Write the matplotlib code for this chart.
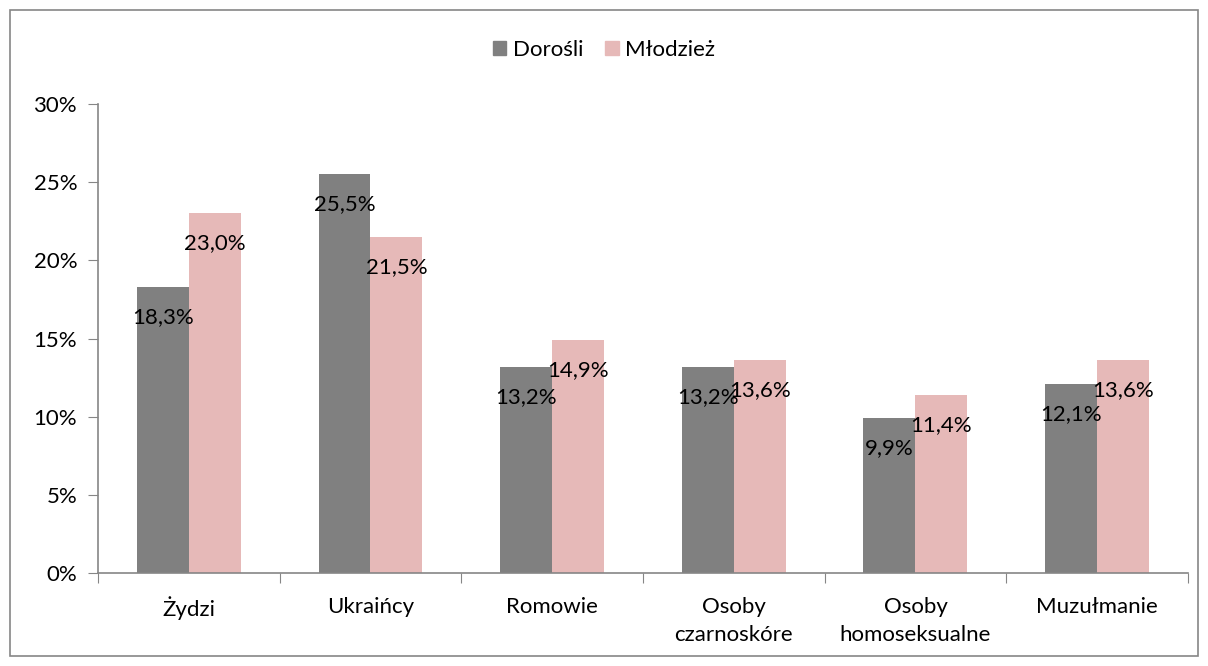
import matplotlib.pyplot as plt
import matplotlib.patches as mpatches
import numpy as np

plt.rcParams['font.family'] = ['Lato', 'DejaVu Sans']

# dane
kategorie = ['Żydzi', 'Ukraińcy', 'Romowie', 'Osoby\nczarnoskóre', 'Osoby\nhomoseksualne', 'Muzułmanie']
dorosli = [18.3, 25.5, 13.2, 13.2, 9.9, 12.1]
mlodziez = [23.0, 21.5, 14.9, 13.6, 11.4, 13.6]
serie = ['Dorośli', 'Młodzież']
kolory = ['#808080', '#E6B9B8']
os_y = [0, 5, 10, 15, 20, 25, 30]

fs = 16

fig = plt.figure(figsize=(12.08, 6.66), dpi=100)
ax = fig.add_axes([0.0811, 0.1396, 0.9023, 0.7042])

x = np.arange(len(kategorie))
w = 0.286
b1 = ax.bar(x - w / 2, dorosli, w, color=kolory[0])
b2 = ax.bar(x + w / 2, mlodziez, w, color=kolory[1])

# etykiety danych jak w Excelu (wewnątrz, przy końcu słupka)
for bars, vals in [(b1, dorosli), (b2, mlodziez)]:
    for rect, v in zip(bars, vals):
        ax.annotate(f'{v:.1f}%'.replace('.', ','),
                    (rect.get_x() + rect.get_width() / 2, v),
                    xytext=(0, -30), textcoords='offset pixels',
                    ha='center', va='center', fontsize=fs, color='black')

ax.set_xlim(-0.5, len(kategorie) - 0.5)
ax.set_ylim(0, 30)
ax.set_yticks(os_y)
ax.set_yticklabels([f'{v}%' for v in os_y], fontsize=fs)
ax.set_xticks(np.arange(-0.5, len(kategorie), 1))
ax.set_xticklabels([])
ax.set_xticks(x, minor=True)
ax.set_xticklabels(kategorie, minor=True, fontsize=fs, linespacing=1.5, va='top')
ax.tick_params(axis='x', which='minor', length=0, pad=17)
ax.tick_params(axis='x', which='major', length=7, color='#868686')
ax.tick_params(axis='y', length=7, color='#868686', pad=8)

for s in ['top', 'right']:
    ax.spines[s].set_visible(False)
for s in ['left', 'bottom']:
    ax.spines[s].set_color('#868686')
    ax.spines[s].set_linewidth(1.2)

parches = [mpatches.Patch(color=c, label=l) for c, l in zip(kolory, serie)]
fig.legend(handles=parches, loc='center', bbox_to_anchor=(0.5, 0.925), ncol=2,
           frameon=False, fontsize=fs, handlelength=0.6, handleheight=0.6,
           handletextpad=0.3, columnspacing=1.0)

# ramka wokół wykresu
fig.patches.append(mpatches.Rectangle((10 / 1208, 10 / 666), 1188 / 1208, 646 / 666,
                                      transform=fig.transFigure, fill=False,
                                      edgecolor='#868686', linewidth=1.2))

fig.savefig('out.png', dpi=100)
